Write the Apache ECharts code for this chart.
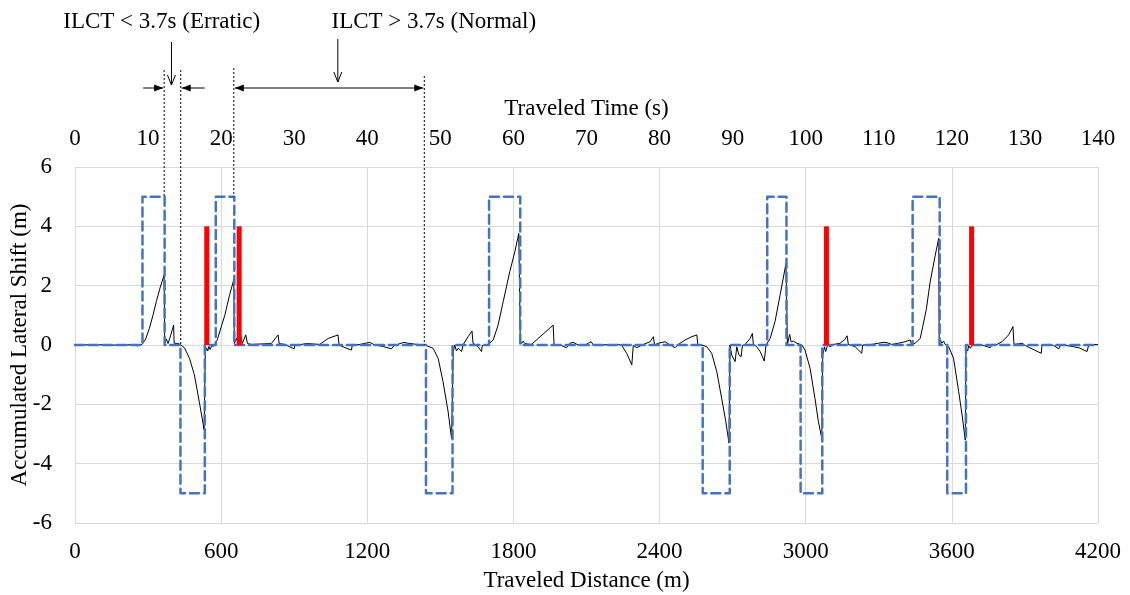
<!DOCTYPE html>
<html><head><meta charset="utf-8">
<script src="https://cdn.jsdelivr.net/npm/echarts@6/dist/echarts.min.js"></script>
<style>html,body{margin:0;padding:0;background:#fff}#c{width:1130px;height:595px}</style>
</head><body><div id="c"></div>
<script>
// ---- data ----
const distanceAxis = { min: 0, max: 4200, interval: 600 };
const timeAxis = { min: 0, max: 140, interval: 10 };
const shiftAxis = { min: -6, max: 6, interval: 2 };

// accumulated lateral shift (black line): [distance m, shift m]
const lateralShift = [
[0,0],[100,0.01],[200,-0.01],[240,0.02],[255,-0.03],[265,0],[275,0.02],[290,0.2],[305,0.55],[320,1.0],[335,1.5],[350,1.95],[366,2.36],
[368,0.05],[375,0.2],[382,0.05],[392,0.3],[405,0.67],[407,0.06],[415,0.03],[425,0.05],[435,0],[450,-0.1],[470,-0.45],[490,-1.0],[510,-1.9],[530,-2.85],
[535,-0.25],[540,-0.1],[545,-0.2],[550,-0.05],[555,-0.15],[560,-0.05],[574,-0.02],[585,0.2],[600,0.6],[615,1.0],[635,1.7],[652,2.2],
[654,0.05],[663,0.22],[670,0.05],[679,0.34],[687,0.05],[701,0.34],[708,0.05],[724,0.02],[806,0.05],[834,0.34],[838,0.05],[861,0.02],[900,-0.13],[903,-0.02],
[950,0.05],[957,0],[1005,0.02],[1039,0.22],[1080,0.34],[1084,0],[1108,-0.09],[1135,-0.17],[1138,-0.02],[1170,0.02],[1210,0.09],[1231,0],[1265,-0.05],[1299,-0.13],
[1310,-0.02],[1350,0.09],[1366,0.06],[1395,0.03],[1436,0],[1470,-0.11],[1491,-0.45],[1511,-1.24],[1532,-2.25],[1546,-3.15],[1553,-0.22],[1559,0],[1566,-0.2],
[1573,-0.11],[1587,-0.22],[1594,0.02],[1614,0.28],[1630,0.47],[1634,0.06],[1655,-0.06],[1669,-0.22],[1672,-0.02],[1696,0.02],[1717,0.17],[1737,0.67],[1758,1.46],
[1785,2.47],[1806,3.15],[1822,3.76],[1828,0.15],[1833,0.05],[1840,0.13],[1847,0.05],[1861,0.03],[1874,0.02],[1963,0.67],[1967,0.02],[1997,-0.02],[2018,-0.09],
[2032,0.06],[2045,0.09],[2066,0],[2094,0],[2108,0.06],[2119,0.11],[2128,0],[2231,0.02],[2245,-0.02],[2265,-0.28],[2286,-0.67],[2292,-0.02],[2306,-0.09],[2334,0.02],
[2361,0.11],[2375,0.28],[2379,0],[2395,0.06],[2423,0.11],[2443,0],[2464,-0.09],[2477,0.02],[2505,0.17],[2532,0.28],[2553,0.34],[2557,0.02],[2573,0],[2594,-0.06],
[2614,-0.28],[2635,-0.9],[2655,-1.8],[2672,-2.58],[2685,-3.31],[2689,0],[2696,-0.34],[2710,-0.56],[2717,-0.06],[2726,-0.34],[2735,-0.39],[2740,-0.02],[2751,0.02],
[2772,0.22],[2781,0.39],[2785,0.02],[2799,-0.06],[2813,-0.22],[2830,-0.54],[2837,0],[2854,0.22],[2874,0.79],[2895,1.69],[2919,2.75],[2925,0],[2929,0.17],[2934,0.36],
[2940,0.11],[2949,0.13],[2963,0.06],[2984,0],[2997,-0.17],[3018,-0.79],[3038,-1.8],[3052,-2.58],[3066,-3.15],[3070,-0.34],[3077,-0.06],[3082,-0.22],[3090,0],
[3100,-0.06],[3114,0.02],[3141,0.06],[3159,0.17],[3170,0.31],[3175,0.02],[3203,-0.06],[3230,-0.28],[3234,0],[3271,0.02],[3299,0.06],[3319,0.09],[3333,0.08],
[3353,0.02],[3381,0.06],[3408,0.11],[3429,0.17],[3435,0],[3449,0.06],[3470,0.22],[3480,0.6],[3495,1.2],[3511,2.13],[3532,3.03],[3546,3.6],[3548,0.02],[3553,0.17],
[3559,0.06],[3566,0.13],[3573,0.02],[3587,-0.06],[3607,-0.45],[3628,-1.57],[3642,-2.36],[3655,-3.2],[3658,-0.11],[3665,-0.2],[3669,-0.02],[3676,-0.11],[3683,0],
[3710,0.02],[3731,-0.02],[3758,-0.09],[3765,0.02],[3785,0.02],[3806,0.11],[3833,0.34],[3851,0.62],[3855,0.02],[3874,0.04],[3888,0.06],[3902,-0.02],[3929,-0.13],
[3967,-0.28],[3970,0],[3998,0.02],[4018,-0.02],[4039,-0.13],[4046,0],[4073,-0.02],[4100,-0.06],[4121,-0.09],[4155,-0.22],[4162,0],[4196,0.02],[4200,0]
];

// lane-change window (blue dashed)
const laneWindow = [
[0,0],[277,0],[277,5],[368,5],[368,0],[433,0],[433,-5],[533,-5],[533,0],[578,0],[578,5],[654,5],[654,0],
[1441,0],[1441,-5],[1550,-5],[1550,0],[1700,0],[1700,5],[1828,5],[1828,0],[2577,0],[2577,-5],[2688,-5],[2688,0],
[2842,0],[2842,5],[2921,5],[2921,0],[2979,0],[2979,-5],[3068,-5],[3068,0],[3439,0],[3439,5],[3550,5],[3550,0],
[3581,0],[3581,-5],[3658,-5],[3658,0],[4200,0]
];

// red markers
const redMarkers = [[541,4],[674,4],[3085,4],[3681,4]];

// annotation guide lines: [distance, value at lower end]
const guideLines = [[366,5],[434,0],[652,5],[1434,0]];
const annotationTexts = [['ILCT < 3.7s (Erratic)', 356, 396], ['ILCT > 3.7s (Normal)', 1473, 1079]]; // text, text-center distance, arrow distance

// ---- chart ----
const FONT = '"Liberation Serif","Times New Roman",serif';
const FS = 23;
const chart = echarts.init(document.getElementById('c'), null, {renderer: 'canvas'});
const grid = {left: 75, right: 32, top: 167, bottom: 72, outerBoundsMode: 'none', containLabel: false};
const lbl = {fontFamily: FONT, fontSize: FS, color: '#000'};
const plain = v => String(v);
const option = {
  animation: false,
  backgroundColor: '#fff',
  grid: grid,
  xAxis: [{
    type: 'value', position: 'bottom', min: distanceAxis.min, max: distanceAxis.max, interval: distanceAxis.interval,
    name: 'Traveled Distance (m)', nameLocation: 'middle', nameGap: 46, nameMoveOverlap: false, nameTextStyle: lbl,
    axisLine: {show: false}, axisTick: {show: false},
    axisLabel: Object.assign({margin: 17, formatter: plain}, lbl),
    splitLine: {show: true, lineStyle: {color: '#d9d9d9', width: 1}}
  }, {
    type: 'value', position: 'top', min: timeAxis.min, max: timeAxis.max, interval: timeAxis.interval,
    name: 'Traveled Time (s)', nameLocation: 'middle', nameGap: 47, nameMoveOverlap: false, nameTextStyle: lbl,
    axisLine: {show: false}, axisTick: {show: false},
    axisLabel: Object.assign({margin: 17, formatter: plain}, lbl),
    splitLine: {show: false}
  }],
  yAxis: [{
    type: 'value', min: shiftAxis.min, max: shiftAxis.max, interval: shiftAxis.interval,
    name: 'Accumulated Lateral Shift (m)', nameLocation: 'middle', nameGap: 44, nameMoveOverlap: false, nameTextStyle: lbl,
    axisLine: {show: false}, axisTick: {show: false},
    axisLabel: Object.assign({margin: 23, formatter: plain}, lbl),
    splitLine: {show: true, lineStyle: {color: '#d9d9d9', width: 1}}
  }],
  series: [{
    type: 'line', xAxisIndex: 0, yAxisIndex: 0, data: lateralShift, showSymbol: false, symbol: 'none',
    lineStyle: {color: '#000', width: 1}, z: 2
  }, {
    type: 'line', xAxisIndex: 0, yAxisIndex: 0, data: laneWindow, showSymbol: false, symbol: 'none',
    lineStyle: {color: '#4472C4', width: 2.5, type: [9, 5], cap: 'round', join: 'round'}, z: 3
  }, {
    type: 'bar', xAxisIndex: 0, yAxisIndex: 0, data: redMarkers, barWidth: 5,
    itemStyle: {color: '#ff0000'}, z: 4
  }]
};
chart.setOption(option);

const px = d => chart.convertToPixel({xAxisIndex: 0}, d);
const py = v => chart.convertToPixel({yAxisIndex: 0}, v);
const guideTop = [70, 70, 68, 76];
const arrowY = 88;
const g = [];
guideLines.forEach((gl, i) => {
  g.push({type: 'line', shape: {x1: px(gl[0]), y1: guideTop[i], x2: px(gl[0]), y2: py(gl[1])},
    style: {stroke: '#000', lineWidth: 1, lineDash: [2, 2]}, z: 10});
});
function head(x, y, dir) { // filled triangle pointing dir (1 right, -1 left)
  return {type: 'polygon', shape: {points: [[x, y], [x - dir * 9, y - 3.5], [x - dir * 9, y + 3.5]]}, style: {fill: '#000'}, z: 10};
}
function hline(x1, x2, y) { return {type: 'line', shape: {x1: x1, y1: y, x2: x2, y2: y}, style: {stroke: '#000', lineWidth: 1}, z: 10}; }
// erratic arrows
const a1 = px(guideLines[0][0]) - 1, a2 = px(guideLines[1][0]) + 1;
g.push(hline(a1 - 20, a1, arrowY), head(a1, arrowY, 1));
g.push(hline(a2, a2 + 23, arrowY), head(a2, arrowY, -1));
// normal double arrow
const b1 = px(guideLines[2][0]) + 1, b2 = px(guideLines[3][0]) - 1;
g.push(hline(b1, b2, arrowY), head(b1, arrowY, -1), head(b2, arrowY, 1));
// texts and down arrows
const downTop = [42, 39], downBot = [85, 82];
annotationTexts.forEach((t, i) => {
  g.push({type: 'text', x: px(t[1]), y: 22, style: {text: t[0], font: FS + 'px ' + FONT, fill: '#000', align: 'center', verticalAlign: 'middle'}, z: 10});
  const x = px(t[2]);
  g.push({type: 'line', shape: {x1: x, y1: downTop[i], x2: x, y2: downBot[i]}, style: {stroke: '#000', lineWidth: 1}, z: 10});
  g.push({type: 'polyline', shape: {points: [[x - 4, downBot[i] - 10], [x, downBot[i]], [x + 4, downBot[i] - 10]]}, style: {stroke: '#000', lineWidth: 1, fill: null}, z: 10});
});
chart.setOption({graphic: g});
</script></body></html>
